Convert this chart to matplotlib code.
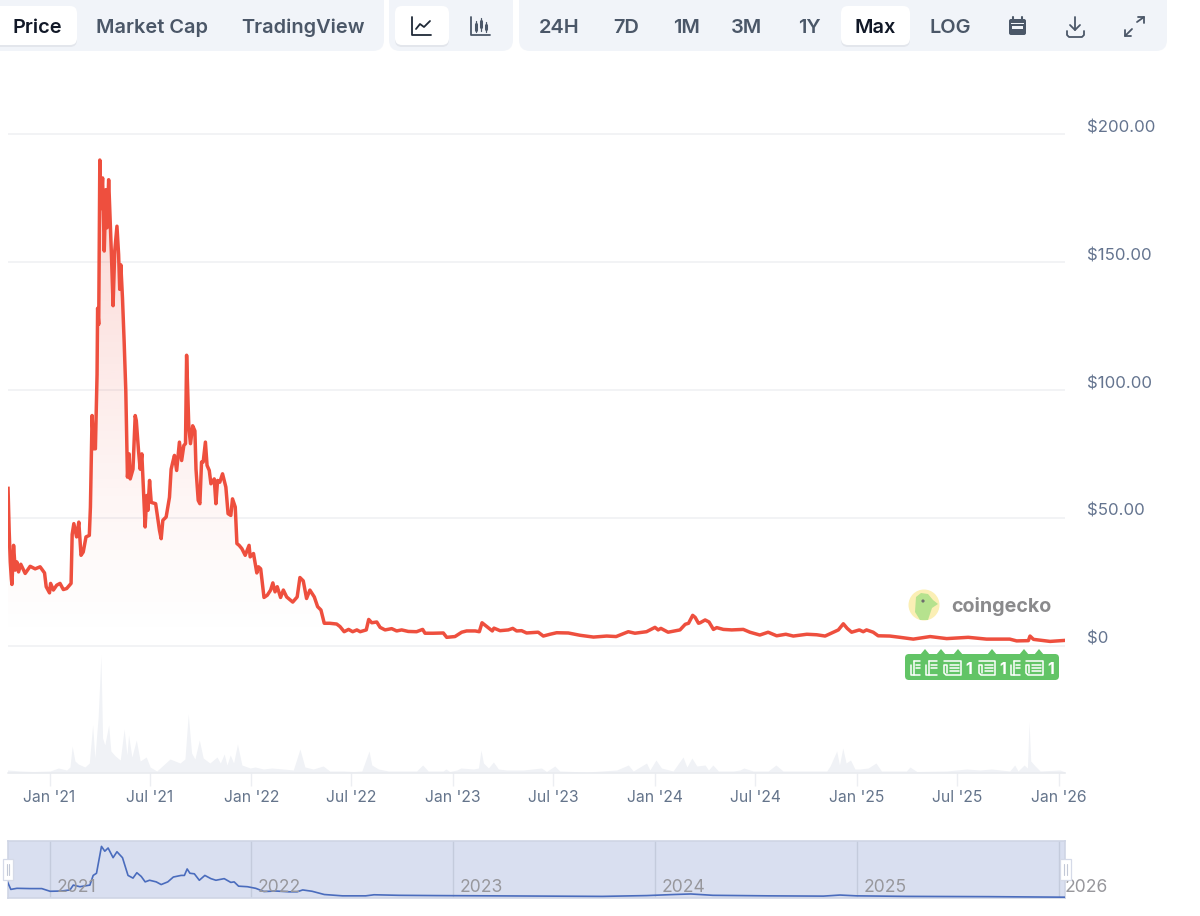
import numpy as np
import matplotlib
matplotlib.use("Agg")
import matplotlib.pyplot as plt
import matplotlib.dates as mdates
from matplotlib.patches import FancyBboxPatch, Circle, Polygon, Rectangle
from matplotlib.ticker import FixedLocator, FuncFormatter
from matplotlib.transforms import ScaledTranslation

plt.rcParams['font.family'] = ['Inter', 'DejaVu Sans']

# ---- DATA (days since 2021-01-01) ----
price_days = [-75,-73,-71,-69,-68,-65,-62,-59,-56,-52,-44,-35,-26,-17,-9,-6,0,2,7,13,19,25,31,39,41,44,49,53,57,61,66,72,74,77,80,83,86,87,89,91,93,96,99,102,104,107,112,115,118,122,125,127,129,132,135,138,141,144,146,151,155,157,161,164,167,173,176,178,181,184,192,199,202,205,211,217,220,223,226,230,235,239,243,246,248,252,255,259,263,265,269,272,275,278,282,285,289,292,298,301,304,308,313,319,323,328,331,336,339,343,348,354,361,363,369,375,378,382,388,394,400,404,408,412,418,423,429,440,448,453,459,465,471,479,485,491,497,503,
              507,519.5,525.5,533,541,548.4,556,562,573,577.4,583,592,598,607,619,628,637,649,664,675,679.3,694,712.4,718.5,733.5,745.6,754.6,770,777.5,782.4,791,801,804,815,830,838,845,854,863,884,893.3,905.4,917.4,938.5,959.7,984,1008,1025,1047,1059,1080,1095.3,1101,1106,1119,1140.5,1150,1156,1163.5,1168,1174,
              1177,1186,1193,1201,1207,1219,1234,1255,1267,1285,1300,1315.4,1332,1345.5,1370,1388,1403,1418,1427,1436,1443,1451,1465,1472,1478,1490,1499,1520,1538.5,1562.6,1593,1623,1662,1695,1737,1749.5,1770.7,1773.7,1780,1810,1837]
price_vals = [61.5,45,32.7,26,23.9,39.2,29.5,32.7,28.8,31.8,28.2,31,30,30.8,28.4,23,20.6,24.3,21.7,23.6,24.3,21.9,22.3,24.3,43.5,47.7,42.5,48.3,35.3,36.6,42.5,43.1,54.2,90,77,77,106,132,125.7,190,171,183,154.4,178.4,163.5,182.3,153,133,154.4,164.1,153,139.4,149,136,119,99.7,65.9,75,65.2,69,90,88,76.3,69,75,46.4,58.7,52.9,64.6,56,55.5,45,41.8,49,50.3,58,69,71.8,74.4,68.5,79.6,72.4,78.3,79,113.6,85.4,79,86,84,69,56.8,55.5,71.8,71.8,79.6,70.5,68.5,63.3,65.2,55.5,64.6,63.9,67.2,62,51.6,50.9,57.4,54.2,39.9,39.2,37.9,35.3,39.2,34.7,36,28.4,30.8,30,18.8,19.7,21.7,24.5,21,23,18.8,21.7,19,17,19,26.6,25.3,18.4,21.7,19,15.2,13.9,8.7,8.7,
              8.7,8.4,7.4,5.4,6.3,5.4,6.1,5.4,6.1,10.2,8.9,9.2,7.1,6.1,6.6,5.7,6.1,5.5,5.4,6.3,4.8,4.8,4.9,3.2,3.5,5.2,5.7,5.7,5.4,8.9,7.4,5.7,6.8,5.8,6.1,6.7,5.7,5.8,4.9,5.2,3.7,4.4,5,4.9,4,3.3,3.7,3.5,5.4,4.8,5.4,7.1,6.1,6.7,5.2,6.1,8.3,8.7,11.8,11,8.7,
              8.9,10,9.2,6.3,7,6.3,6.1,6.3,5.2,4.1,5.2,3.8,4.4,3.7,4.4,4.2,3.7,5.2,6.1,8.5,6.7,5.2,6.1,5.4,6.1,5.2,3.8,3.7,3.2,2.5,3.5,2.7,3.2,2.5,2.5,1.8,1.9,3.7,2.4,1.6,2]

volume_days = [-76,-53,-29,1,16,31,37,41,46,52,64,72,78,82,88,93,96,100,107,111,119,128,135,140,143,149,157,164,175,182,194,206,218,236,245,251,257,263,271,278,290,303,309,316,321,327,333,340,348,363,372,387,402,423,441,453,462,477,495,507,532,550,565,578,583,595,613,634,
               664,675,685,712,717,724,737,744,767,776,780.5,785,794,803,812,827,857,890,899,914,923,972,1026,1047,1056,1080,1086,1097,1107,1128,1146,1153,1162,1171,1186,1192,1200,1210,1237,
               1249,1256,1273,1300,1314,1327,1370,1406,1412,1424,1429,1435,1441,1449,1457,1466,1481,1495,1505,1550,1556.5,1569,1623,1659,1683,1704,1737,1746,1752,1763,1769,1772,1775,1783,1792,1828,1837]
volume_vals = [3,2,1.5,2,5,3,6,27,12,9,6,10,48,15,56,118,35,28,48,22,17,13,44,18,38,16,33,12,16,6,2,8,14,10,14,59,20,14,33,15,10,16,10,19,8,18,10,29,8,5,6,4,5,4,3,24,6,4,7,2,2,1.5,2,22,8,4,2,2,
               2,8,2,2,4,1.5,3,5,4,5,23,10,5,11,4,3,3,5,1.5,7,2,1,3,8,2,10,3,13,5,2,16,6,15,7,8,3,8,2,2,
               3,5,2,2,8,2,2,2,7,22,8,25,10,13,4,4,5,10,2,2,6,1.5,2,4,3,4,2,8,2,8,5,51,12,7,2,3,1]

nav_days = [-76,-70,-59,-35,-14,1,22,37,43,55,73,79,85,94,100,106,115,122,132,142,151,158,166,173,181,193,202,214,224,238,244,249,254,262,271,281,292,301,316,328,334,342,358,373,388,409,433,448,458,475,497,530,572,587,632,700,800,900,1000,1080,1130,1160,1200,1300,1400,1430,1460,1550,1700,1837]
nav_vals = [60,32,36,35,35,25,26,30,48,42,48,84,92,192,174,186,150,172,150,84,74,94,80,60,66,60,50,60,78,84,84,108,92,90,66,84,72,66,72,58,60,44,42,36,24,26,23,23,30,25,13,8,8,12,10,9,8,7,6,9,13,15,10,8,7,11,8,6,5,3]

y_ticks = [0, 50, 100, 150, 200]
y_labels = ['$0', '$50.00', '$100.00', '$150.00', '$200.00']
years = [2021, 2022, 2023, 2024, 2025, 2026]
tab_labels = ['Market Cap', 'TradingView', '24H', '7D', '1M', '3M', '1Y', 'LOG']
tab_centres = [152.5, 303, 559.5, 626, 686, 746.5, 809.5, 950.5]

# ---- set-up ----
W, H = 1200, 916
fig = plt.figure(figsize=(W/100, H/100), dpi=100, facecolor='white')

def px_axes(x0, y0, x1, y1, **kw):
    return fig.add_axes([x0/W, 1-y1/H, (x1-x0)/W, (y1-y0)/H], **kw)

epoch = mdates.date2num(np.datetime64('2021-01-01'))
to_num = lambda d: epoch + np.asarray(d, dtype=float)
xlim = (epoch-76, epoch+1837)
SCALE = 2.555
ylim = ((645.5-773)/SCALE, (645.5-60)/SCALE)

# ---- volume ----
axv = px_axes(7.5, 650, 1065, 773, facecolor='none', zorder=1)
axv.fill_between(to_num(volume_days), volume_vals, 0, color='#f0f2f6', lw=0)
axv.set_xlim(xlim); axv.set_ylim(0, 123); axv.axis('off')

# ---- price ----
ax = px_axes(7.5, 60, 1065, 773, facecolor='none', zorder=2)
xs = to_num(price_days); ys = np.array(price_vals)
ax.hlines(y_ticks, xlim[0], xlim[1], color='#eff0f3', lw=1.1, zorder=1)
grad = np.linspace(0, 1, 256).reshape(-1, 1)
rgba = np.zeros((256, 1, 4)); rgba[..., :3] = matplotlib.colors.to_rgb('#ee4f3e')
rgba[..., 3] = 0.24*(1-grad)**1.25
im = ax.imshow(rgba, extent=[xlim[0], xlim[1], 0, 190], origin='upper', aspect='auto', zorder=2)
poly = ax.fill_between(xs, ys, 0, color='none', lw=0)
im.set_clip_path(poly.get_paths()[0], transform=ax.transData)
ax.set_xlim(xlim)
ax.set_ylim(ylim)
ax.plot(xs, ys, color='#ee4f3e', lw=2.5, solid_joinstyle='round', zorder=3)

for s in ax.spines.values():
    s.set_visible(False)
ax.spines['bottom'].set_visible(True); ax.spines['bottom'].set_color('#e9ebef'); ax.spines['bottom'].set_linewidth(1.1)
ax.xaxis.set_major_locator(mdates.MonthLocator(bymonth=[1, 7]))
ax.xaxis.set_major_formatter(mdates.DateFormatter("%b '%y"))
ax.tick_params(axis='x', length=9, width=1, color='#eceef2', pad=3.5, labelsize=11.3, labelcolor='#64748b')
ax.yaxis.tick_right()
ax.yaxis.set_major_locator(FixedLocator(y_ticks))
ax.yaxis.set_major_formatter(FuncFormatter(lambda v, p: y_labels[y_ticks.index(int(v))] if int(v) in y_ticks else ''))
ax.tick_params(axis='y', length=0, pad=16, labelsize=12.1, labelcolor='#64748f')
lift = ScaledTranslation(0, 8/100, fig.dpi_scale_trans)
fig.canvas.draw()
for t in ax.get_yticklabels():
    t.set_transform(t.get_transform() + lift)

# ---- navigator ----
axn = px_axes(7.5, 841, 1065, 898, facecolor='#d9dff0', zorder=3)
axn.set_xlim(xlim); axn.set_ylim(0, 212)
for yr in years:
    d = mdates.date2num(np.datetime64(f'{yr}-01-01'))
    axn.axvline(d, color='#c4cbdc', lw=1)
    axn.annotate(str(yr), (d, 0), xytext=(4.8 if yr < 2026 else 4.3, 4.6), textcoords='offset points',
                 color='#97979c', fontsize=12.6, annotation_clip=False, zorder=5)
axn.plot(to_num(nav_days), nav_vals, color='#4a6cbd', lw=1.2, zorder=4)
axn.set_xticks([]); axn.set_yticks([])
for s in axn.spines.values():
    s.set_color('#cfd5e5'); s.set_linewidth(1.2)

# ---- UI overlay ----
ui = fig.add_axes([0, 0, 1, 1], facecolor='none', zorder=5)
ui.set_xlim(0, W); ui.set_ylim(H, 0); ui.axis('off')

def rrect(x0, y0, x1, y1, r, color, **kw):
    ui.add_patch(FancyBboxPatch((x0, y0), x1-x0, y1-y0, boxstyle=f'round,pad=0,rounding_size={r}',
                                fc=color, ec=kw.pop('ec', 'none'), lw=kw.pop('lw', 0), **kw))

for a, b in [(-12, 384), (389, 513), (519, 1167)]:
    rrect(a, -12, b, 51, 11, '#f1f4f9')
for a, b in [(-8, 77), (395, 449), (841, 910)]:
    rrect(a, 7, b, 47, 7, '#e3e6ec')
    rrect(a, 6, b, 45, 7, 'white')

ui.text(37.5, 26, 'Price', ha='center', va='center_baseline', fontsize=14.4, fontweight='semibold', color='#111827')
ui.text(875.5, 26, 'Max', ha='center', va='center_baseline', fontsize=14.4, fontweight='semibold', color='#111827')
for lab, c in zip(tab_labels, tab_centres):
    ui.text(c, 26, lab, ha='center', va='center_baseline', fontsize=14.4, fontweight='semibold', color='#4b5768')

def line(xy, color='#4b5768', lw=1.3):
    pts = np.array(xy)
    ui.plot(pts[:, 0], pts[:, 1], color=color, lw=lw, solid_capstyle='round', solid_joinstyle='round')

# line-chart icon
line([(412, 17), (412, 35), (431, 35)], '#1f2937')
line([(416, 29), (420, 24), (424, 27), (430, 21)], '#1f2937')
# candles icon
line([(471, 17), (471, 35), (490, 35)])
for cx, top, bot, a, b in [(476, 21, 32, 24, 30), (481, 18, 31, 21, 27), (486, 22, 32, 25, 29)]:
    line([(cx, top), (cx, bot)], lw=0.9)
    line([(cx, a), (cx, b)], lw=2.2)
# calendar icon
rrect(1009, 19, 1026, 35, 2, '#4b5768')
ui.add_patch(Rectangle((1012, 26), 11, 2.5, fc='#f1f4f9', lw=0))
ui.add_patch(Rectangle((1011, 23), 13, 1.0, fc='#f1f4f9', lw=0))
line([(1013, 17), (1013, 20)], lw=1.5); line([(1022, 17), (1022, 20)], lw=1.5)
# download icon
line([(1075, 17), (1075, 30)]); line([(1070, 25), (1075, 30), (1080, 25)])
line([(1067, 31), (1067, 35), (1069, 37), (1082, 37), (1084, 35), (1084, 31)])
# expand icon
line([(1137, 22), (1144, 17)]); line([(1138, 17), (1144, 17), (1144, 23)])
line([(1125, 36), (1132, 29)]); line([(1125, 30), (1125, 36), (1131, 36)])

# coingecko mark
ui.add_patch(Circle((924, 605), 15.5, fc='#fbefb5', lw=0))
ui.add_patch(Polygon([(916, 597), (921, 593), (928, 594), (933, 600), (938, 604), (932, 608), (928, 620), (920, 620), (915, 612)],
                     closed=True, fc='#b6e28e', lw=0))
ui.add_patch(Circle((923, 601), 1.6, fc='#6d6d6d', lw=0))
ui.text(951, 604.5, 'coingecko', ha='left', va='center_baseline', fontsize=14.2, fontweight='bold', color='#8a8a8c')

# news flags
rrect(905, 654, 1059, 680, 4, '#62c466')
for c in [925, 941, 958, 992, 1024, 1039]:
    ui.add_patch(Polygon([(c-5, 655), (c, 649), (c+5, 655)], closed=True, fc='#62c466', lw=0))

def news(x0, x1, full=True):
    if full:
        line([(x0, 661), (x1-5, 661), (x1-5, 675), (x0+2, 675), (x0, 673), (x0, 665), (x0+3, 665), (x0+3, 673)], 'white', 1.1)
        line([(x0+6, 665), (x1-7, 665)], 'white', 1.1)
        line([(x0+6, 668), (x1-7, 668)], 'white', 1.1)
        line([(x0+6, 671), (x1-7, 671)], 'white', 1.1)
    else:
        line([(x0, 665), (x0, 675), (x0+3, 675)], 'white', 1.1)
        line([(x0+3, 661), (x0+3, 675), (x1, 675)], 'white', 1.1)
        line([(x0+3, 661), (x1, 661)], 'white', 1.1)
        line([(x0+5, 665), (x1, 665)], 'white', 1.1)
        line([(x0+5, 668), (x1, 668)], 'white', 1.1)

news(911, 920, False); news(926, 937, False)
news(944, 966); news(979, 1000); news(1011, 1020, False); news(1026, 1048)
for x in [968.5, 1003, 1051]:
    ui.text(x, 667.5, '1', ha='center', va='center_baseline', fontsize=11.5, fontweight='bold', color='white')

# navigator handles
for a, b in [(3, 13), (1060, 1071)]:
    ui.add_patch(Rectangle((a, 859), b-a, 21, fc='white', ec='#d5dae8', lw=0.9))
    m = (a+b)/2
    line([(m-1.3, 864), (m-1.3, 875)], '#c2c8d6', 0.8); line([(m+1.3, 864), (m+1.3, 875)], '#c2c8d6', 0.8)

fig.savefig('out.png', dpi=100, facecolor='white')
